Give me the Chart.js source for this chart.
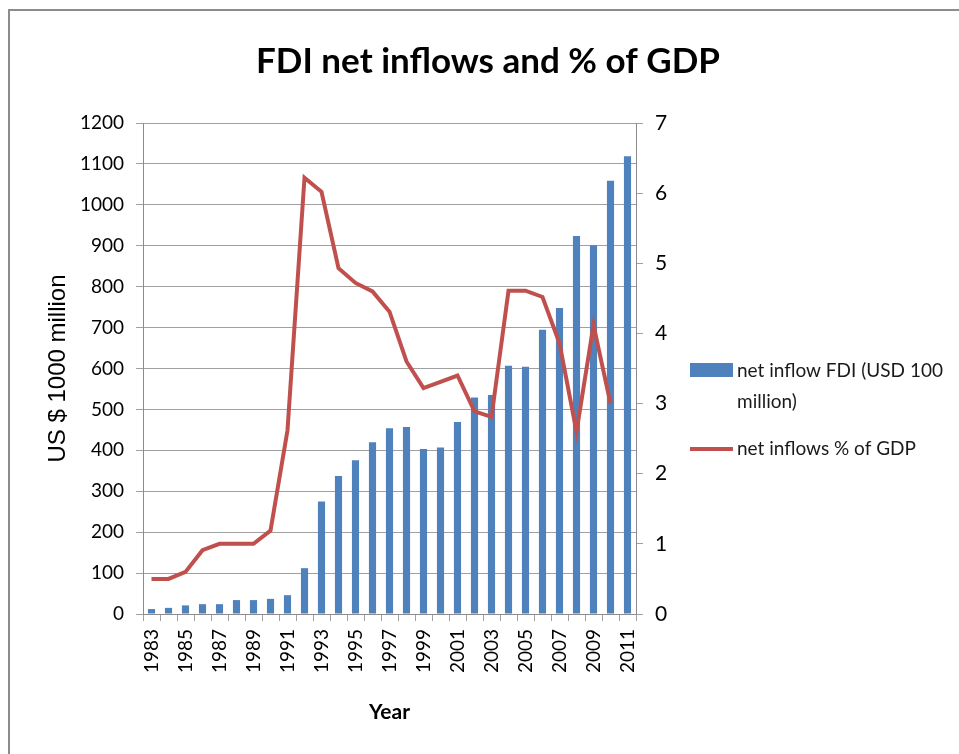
<!DOCTYPE html>
<html>
<head>
<meta charset="utf-8">
<script src="https://cdn.jsdelivr.net/npm/chart.js@4"></script>
<style>
  html, body { margin: 0; padding: 0; background: #fff; overflow: hidden; }
  #wrap { position: relative; width: 959px; height: 754px; }
  #frame {
    position: absolute; left: 8px; top: 9px; width: 1000px; height: 800px;
    border-left: 2px solid #8c8c8c; border-top: 2px solid #8c8c8c;
    pointer-events: none;
  }
</style>
</head>
<body>
<div id="wrap">
  <canvas id="fdiChart" width="959" height="754"></canvas>
  <div id="frame"></div>
</div>
<script>
// -------------------- DATA --------------------
const years = [
  '1983', '1984', '1985', '1986', '1987', '1988', '1989', '1990', '1991', '1992',
  '1993', '1994', '1995', '1996', '1997', '1998', '1999', '2000', '2001', '2002',
  '2003', '2004', '2005', '2006', '2007', '2008', '2009', '2010', '2011'
];

// net inflow FDI (USD 100 million)
const netInflowFDI = [
  12, 15, 21, 24, 24, 34, 34, 37, 46, 112,
  275, 337, 376, 420, 454, 457, 403, 407, 469, 529,
  535, 607, 604, 695, 748, 924, 901, 1059, 1119
];

// net inflows % of GDP (no figure for 2011)
const netInflowPctGDP = [
  0.5, 0.5, 0.6, 0.91, 1.0, 1.0, 1.0, 1.19, 2.62, 6.22,
  6.02, 4.93, 4.72, 4.6, 4.31, 3.6, 3.22, 3.31, 3.4, 2.89,
  2.81, 4.61, 4.61, 4.52, 3.86, 2.6, 4.12, 3.0, null
];

const leftTicks = { min: 0, max: 1200, step: 100 };
const rightTicks = { min: 0, max: 7, step: 1 };

const BLUE = '#4F81BD';
const RED = '#C0504D';
const GRID = '#a0a0a0';
const AXIS = '#8c8c8c';

// -------------------- TITLE + LEGEND (drawn over the whole canvas) --------------------
const chartDecor = {
  id: 'chartDecor',
  afterDraw(chart) {
    const ctx = chart.ctx;
    const sets = chart.data.datasets;
    ctx.save();

    // title, centred on the full canvas width
    ctx.fillStyle = '#000';
    ctx.font = 'bold 35px Lato';
    ctx.textAlign = 'center';
    ctx.textBaseline = 'middle';
    ctx.fillText('FDI net inflows and % of GDP', 488, 62);

    ctx.font = '19px Lato';
    ctx.textAlign = 'left';

    // bar entry
    ctx.fillStyle = sets[0].backgroundColor;
    ctx.fillRect(690, 363, 43, 14);
    ctx.fillStyle = '#1a1a1a';
    ctx.fillText('net inflow FDI (USD 100', 737, 371);
    ctx.fillText('million)', 737, 402);

    // line entry
    ctx.strokeStyle = sets[1].borderColor;
    ctx.lineWidth = 4;
    ctx.beginPath();
    ctx.moveTo(690, 449);
    ctx.lineTo(733, 449);
    ctx.stroke();
    ctx.fillText(sets[1].label, 737, 449);
    ctx.restore();
  }
};

// -------------------- CHART --------------------
const ctx = document.getElementById('fdiChart').getContext('2d');
new Chart(ctx, {
  type: 'bar',
  data: {
    labels: years,
    datasets: [
      {
        type: 'bar',
        label: 'net inflow FDI (USD 100 million)',
        data: netInflowFDI,
        backgroundColor: BLUE,
        barPercentage: 0.42,
        categoryPercentage: 1,
        yAxisID: 'y',
        order: 1
      },
      {
        type: 'line',
        label: 'net inflows % of GDP',
        data: netInflowPctGDP,
        borderColor: RED,
        backgroundColor: RED,
        borderWidth: 4,
        pointRadius: 0,
        tension: 0,
        spanGaps: false,
        yAxisID: 'y1',
        order: 0
      }
    ]
  },
  options: {
    responsive: false,
    animation: false,
    layout: { padding: { top: 123, right: 273, bottom: 0, left: 0 } },
    plugins: {
      legend: { display: false },
      tooltip: { enabled: false },
      title: { display: false }
    },
    scales: {
      x: {
        offset: true,
        grid: { drawOnChartArea: false, drawTicks: true, tickLength: 7, color: GRID, offset: true },
        border: { display: true, color: AXIS },
        ticks: {
          autoSkip: false,
          maxRotation: 90,
          minRotation: 90,
          padding: 8,
          color: '#000',
          font: { family: 'Lato', size: 19 },
          callback: (val, i) => (i % 2 === 0 ? years[i] : '')
        },
        title: {
          display: true,
          text: 'Year',
          color: '#000',
          font: { family: 'Lato', size: 21, weight: 'bold' },
          padding: { top: 0, bottom: 29 }
        },
        afterFit: (scale) => { scale.height = 140; }
      },
      y: {
        position: 'left',
        min: leftTicks.min,
        max: leftTicks.max,
        grid: { color: GRID, tickLength: 7 },
        border: { display: true, color: AXIS },
        ticks: {
          stepSize: leftTicks.step,
          padding: 12,
          color: '#000',
          font: { family: 'Lato', size: 19 },
          callback: (v) => String(v)
        },
        title: {
          display: true,
          text: 'US $ 1000 million',
          color: '#000',
          font: { family: 'Liberation Sans', size: 24 },
          padding: { top: 44, bottom: 0 }
        },
        afterFit: (scale) => { scale.width = 143; }
      },
      y1: {
        position: 'right',
        min: rightTicks.min,
        max: rightTicks.max,
        grid: { drawOnChartArea: false, color: GRID, tickLength: 7 },
        border: { display: true, color: AXIS },
        ticks: {
          stepSize: rightTicks.step,
          padding: 12,
          color: '#000',
          font: { family: 'Lato', size: 21 }
        },
        afterFit: (scale) => { scale.width = 50; }
      }
    }
  },
  plugins: [chartDecor]
});
</script>
</body>
</html>
